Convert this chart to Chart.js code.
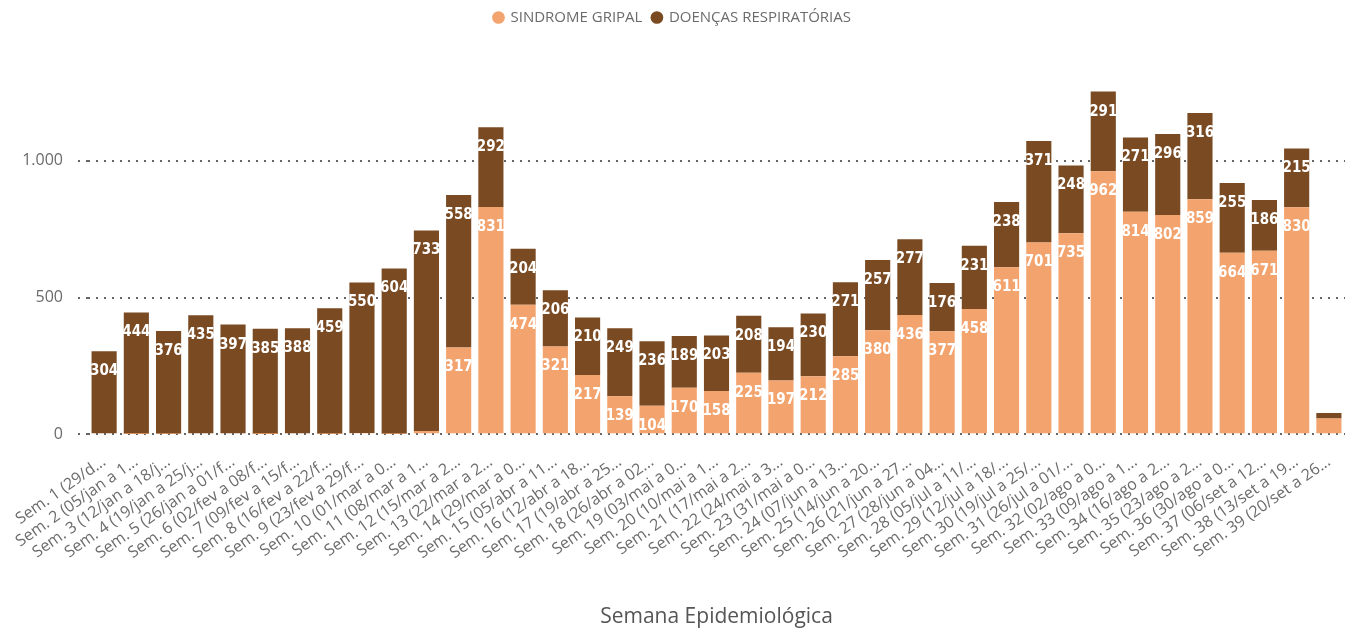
<!DOCTYPE html>
<html lang="pt-BR">
<head>
<meta charset="utf-8">
<title>Semana Epidemiológica</title>
<script src="https://cdn.jsdelivr.net/npm/chart.js@4.4.1/dist/chart.umd.min.js"></script>
<style>
  html, body { margin: 0; padding: 0; background: #fff; }
</style>
</head>
<body>
<canvas id="chart" width="1345" height="628"></canvas>
<script>
// Dados
const semanas = [
    'Sem. 1 (29/dez a 04/jan)', 'Sem. 2 (05/jan a 11/jan)', 'Sem. 3 (12/jan a 18/jan)',
    'Sem. 4 (19/jan a 25/jan)', 'Sem. 5 (26/jan a 01/fev)', 'Sem. 6 (02/fev a 08/fev)',
    'Sem. 7 (09/fev a 15/fev)', 'Sem. 8 (16/fev a 22/fev)', 'Sem. 9 (23/fev a 29/fev)',
    'Sem. 10 (01/mar a 07/mar)', 'Sem. 11 (08/mar a 14/mar)', 'Sem. 12 (15/mar a 21/mar)',
    'Sem. 13 (22/mar a 28/mar)', 'Sem. 14 (29/mar a 04/abr)', 'Sem. 15 (05/abr a 11/abr)',
    'Sem. 16 (12/abr a 18/abr)', 'Sem. 17 (19/abr a 25/abr)', 'Sem. 18 (26/abr a 02/mai)',
    'Sem. 19 (03/mai a 09/mai)', 'Sem. 20 (10/mai a 16/mai)', 'Sem. 21 (17/mai a 23/mai)',
    'Sem. 22 (24/mai a 30/mai)', 'Sem. 23 (31/mai a 06/jun)', 'Sem. 24 (07/jun a 13/jun)',
    'Sem. 25 (14/jun a 20/jun)', 'Sem. 26 (21/jun a 27/jun)', 'Sem. 27 (28/jun a 04/jul)',
    'Sem. 28 (05/jul a 11/jul)', 'Sem. 29 (12/jul a 18/jul)', 'Sem. 30 (19/jul a 25/jul)',
    'Sem. 31 (26/jul a 01/ago)', 'Sem. 32 (02/ago a 08/ago)', 'Sem. 33 (09/ago a 15/ago)',
    'Sem. 34 (16/ago a 22/ago)', 'Sem. 35 (23/ago a 29/ago)', 'Sem. 36 (30/ago a 05/set)',
    'Sem. 37 (06/set a 12/set)', 'Sem. 38 (13/set a 19/set)', 'Sem. 39 (20/set a 26/set)'
];
const sindromeGripal = [
    0, 1, 2, 0, 4, 1, 0, 2, 5, 2, 12,
    317, 831, 474, 321, 217, 139, 104, 170, 158, 225, 197, 212, 285, 380, 436, 377,
    458, 611, 701, 735, 962, 814, 802, 859, 664, 671, 830, 58
];
const doencasRespiratorias = [
    304, 444, 376, 435, 397, 385, 388, 459, 550, 604, 733,
    558, 292, 204, 206, 210, 249, 236, 189, 203, 208, 194, 230, 271, 257, 277, 176,
    231, 238, 371, 248, 291, 271, 296, 316, 255, 186, 215, 20
];
const yTicks = [0, 500, 1000];
const yMax = 1460;

const laranja = '#F3A36D';
const marrom = '#7A4A23';
const cinza = '#6b6b6b';
const fonte = '"Open Sans", "DejaVu Sans", sans-serif';

// 1000 -> "1.000"
function formatar(v) {
    return String(v).replace(/\B(?=(\d{3})+(?!\d))/g, '.');
}

// Corta o rótulo do eixo x com "..." (como o Power BI faz)
const medidor = document.createElement('canvas').getContext('2d');
medidor.font = '16px ' + fonte;
function truncar(texto, maxPx) {
    if (medidor.measureText(texto).width <= maxPx) return texto;
    let t = texto;
    while (t.length > 1 && medidor.measureText(t + '...').width > maxPx) {
        t = t.slice(0, -1);
    }
    return t + '...';
}
function limiteRotulo(i) {
    // os primeiros rótulos batem na borda esquerda
    const xTick = 88 + 32.2 * (i + 0.5);
    return Math.min(166, (xTick - 16) / Math.cos(35 * Math.PI / 180));
}

// Valores brancos dentro das barras
const rotulos = {
    id: 'rotulos',
    afterDatasetsDraw(chart) {
        const ctx = chart.ctx;
        ctx.save();
        ctx.font = 'bold 15px "DejaVu Sans Condensed", "DejaVu Sans", sans-serif';
        ctx.fillStyle = '#ffffff';
        ctx.textAlign = 'center';
        ctx.textBaseline = 'middle';
        chart.data.datasets.forEach((ds, i) => {
            chart.getDatasetMeta(i).data.forEach((bar, j) => {
                const h = bar.base - bar.y;
                if (h < 22) return;
                ctx.fillText(formatar(ds.data[j]), bar.x, bar.y + 20);
            });
        });
        ctx.restore();
    }
};

const ctx = document.getElementById('chart').getContext('2d');
new Chart(ctx, {
    type: 'bar',
    data: {
        labels: semanas,
        datasets: [{
            label: 'SINDROME GRIPAL',
            data: sindromeGripal,
            backgroundColor: laranja,
            borderWidth: 0,
            barPercentage: 0.78,
            categoryPercentage: 1
        }, {
            label: 'DOENÇAS RESPIRATÓRIAS',
            data: doencasRespiratorias,
            backgroundColor: marrom,
            borderWidth: 0,
            barPercentage: 0.78,
            categoryPercentage: 1
        }]
    },
    options: {
        responsive: false,
        animation: false,
        layout: { padding: { top: 0, bottom: 0 } },
        plugins: {
            tooltip: { enabled: false },
            legend: {
                position: 'top',
                labels: {
                    usePointStyle: true,
                    pointStyle: 'circle',
                    boxWidth: 9,
                    boxHeight: 9,
                    padding: 10,
                    color: cinza,
                    font: { family: fonte, size: 15 }
                }
            }
        },
        scales: {
            x: {
                stacked: true,
                afterFit: s => { s.paddingLeft = 0; s.paddingRight = 0; },
                grid: { display: false },
                border: { display: false },
                ticks: {
                    autoSkip: false,
                    minRotation: 35,
                    maxRotation: 35,
                    padding: 10,
                    color: cinza,
                    font: { family: fonte, size: 16 },
                    callback: function(val, i) {
                        return truncar(this.getLabelForValue(val), limiteRotulo(i));
                    }
                },
                title: {
                    display: true,
                    text: 'Semana Epidemiológica',
                    color: '#555',
                    font: { family: fonte, size: 21, lineHeight: 1 },
                    padding: { top: 34, bottom: 0 }
                }
            },
            y: {
                stacked: true,
                min: 0,
                max: yMax,
                afterBuildTicks: s => { s.ticks = yTicks.map(v => ({ value: v })); },
                afterFit: s => { s.width = 88; },
                border: { display: false, dash: [2, 6] },
                grid: {
                    color: '#666',
                    lineWidth: 2,
                    drawTicks: true,
                    tickLength: 10,
                    tickColor: '#666',
                    tickBorderDash: [2, 6]
                },
                ticks: {
                    padding: 15,
                    color: cinza,
                    font: { family: fonte, size: 16 },
                    callback: v => formatar(v)
                }
            }
        }
    },
    plugins: [rotulos]
});
</script>
</body>
</html>
